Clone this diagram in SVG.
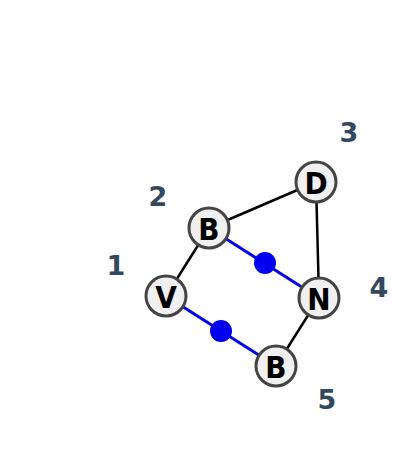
<svg xmlns="http://www.w3.org/2000/svg" width="400" height="463" viewBox="0 0 400 463">
<style>
.edge{stroke:#000;stroke-width:2.5;fill:none}
.blue{stroke:#0000ee;stroke-width:3;fill:none}
.dot{fill:#0000ee}
.node circle{fill:#f0f0f0;stroke:#444;stroke-width:3}
.node text{font-family:"DejaVu Sans Condensed","DejaVu Sans",sans-serif;font-stretch:condensed;font-weight:bold;font-size:31px;fill:#000;text-anchor:middle;dominant-baseline:central}
.lbl{font-family:"DejaVu Sans",sans-serif;font-weight:bold;font-size:27px;fill:#34495e;text-anchor:middle;dominant-baseline:central}
</style>
<rect width="400" height="463" fill="#fff"/>
<g id="connectors">
<line class="edge" x1="209" y1="228" x2="316" y2="182"/>
<line class="edge" x1="209" y1="228" x2="166" y2="296"/>
<line class="edge" x1="316" y1="182" x2="319" y2="298"/>
<line class="edge" x1="319" y1="298" x2="276" y2="366"/>
<line class="blue" x1="209" y1="228" x2="319" y2="298"/>
<line class="blue" x1="166" y1="296" x2="276" y2="366"/>
<circle class="dot" cx="265" cy="263" r="11"/>
<circle class="dot" cx="221" cy="331" r="11"/>
</g>
<g id="node1" class="node"><circle cx="166" cy="296" r="20"/><text x="166" y="297">V</text></g>
<g id="node2" class="node"><circle cx="209" cy="228" r="20"/><text x="209" y="229">B</text></g>
<g id="node3" class="node"><circle cx="316" cy="182" r="20"/><text x="316" y="183">D</text></g>
<g id="node4" class="node"><circle cx="319" cy="298" r="20"/><text x="319" y="299">N</text></g>
<g id="node5" class="node"><circle cx="276" cy="366" r="20"/><text x="276" y="367">B</text></g>
<g id="labels">
<text class="lbl" x="116" y="265">1</text>
<text class="lbl" x="158" y="196">2</text>
<text class="lbl" x="349" y="132">3</text>
<text class="lbl" x="379" y="287">4</text>
<text class="lbl" x="327" y="399">5</text>
</g>
</svg>
